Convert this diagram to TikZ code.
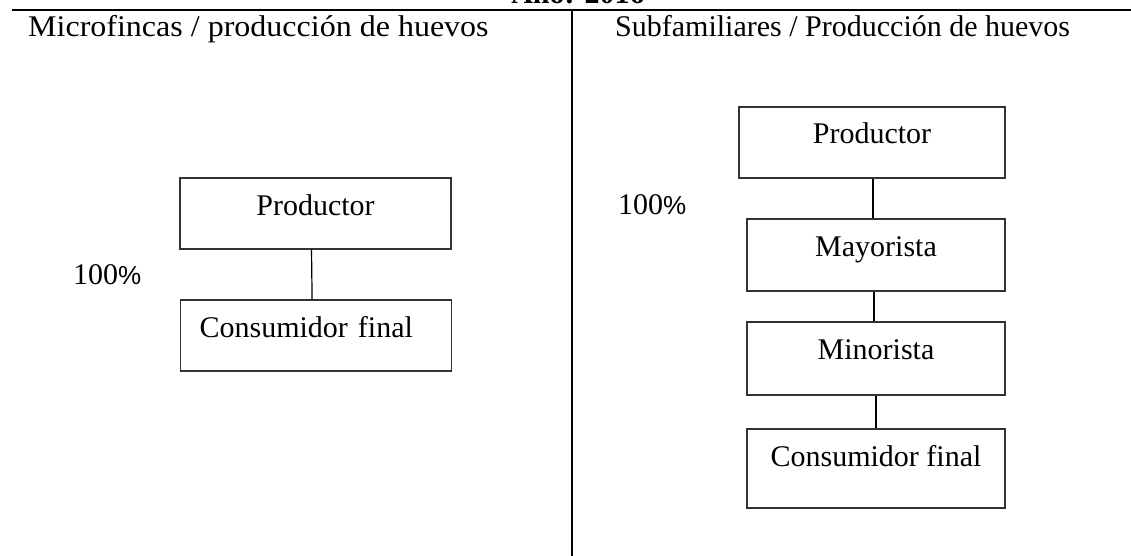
\documentclass[tikz,border=0pt]{standalone}
\usepackage{fontspec}
\setmainfont{Liberation Serif}
\newfontfamily\pctfont{Liberation Sans}
\usetikzlibrary{positioning}

\begin{document}
\begin{tikzpicture}[x=1pt, y=-1pt, every node/.style={font=\fontsize{30}{36}\selectfont, inner sep=0pt},
    caja/.style={draw=black!80, line width=1.2pt, text height=37pt, text depth=#1, minimum width=258pt}]
    \useasboundingbox (0,0) rectangle (1131,556);

    % Titulo y separadores
    \node[anchor=base, font=\fontsize{30}{36}\selectfont\bfseries] (titulo) at (578,4) {Año: 2016};
    \coordinate (sep_L) at (12,10); \coordinate (sep_R) at (1131,10);
    \coordinate (div_T) at (572,10); \coordinate (div_B) at (572,556);
    \draw[line width=2.2pt] (sep_L) -- (sep_R);
    \draw[line width=1.6pt] (div_T) -- (div_B);

    % Microfincas
    \node[anchor=base west] (L_head) at (28,37) {\scalebox{1.067}[1]{Microfincas / producción de huevos}};
    \node[caja=34pt, minimum width=271pt, anchor=base] (L_prod) at (315.5,215) {Productor};
    \node[caja=34pt, text width=233pt, inner xsep=19pt, align=left, anchor=base west] (L_cons) at (180,337) {Consumidor final};
    \node[anchor=base west] (L_pct) at (73,284) {100{\pctfont\fontsize{26}{30}\selectfont\%}};

    % Subfamiliares
    \node[anchor=base west] (R_head) at (615,37) {Subfamiliares / Producción de huevos};
    \node[caja=34pt, minimum width=266pt, anchor=base] (R_prod) at (872,144) {Productor};
    \node[caja=35pt, anchor=base] (R_may) at (876,256) {Mayorista};
    \node[caja=36pt, anchor=base] (R_min) at (876,359) {Minorista};
    \node[caja=42pt, anchor=base] (R_cons) at (876,466) {Consumidor final};
    \node[anchor=base west] (R_pct) at (618,214) {100{\pctfont\fontsize{26}{30}\selectfont\%}};

    % Conectores
    \draw[line width=1.2pt] ([xshift=-4pt]L_prod.south) -- ([xshift=-4pt]L_cons.north);
    \draw[line width=1.2pt] ([xshift=1pt]R_prod.south) -- ([xshift=-3pt]R_may.north);
    \draw[line width=1.2pt] ([xshift=-2pt]R_may.south) -- ([xshift=-2pt]R_min.north);
    \draw[line width=1.2pt] (R_min.south) -- (R_cons.north);

\end{tikzpicture}
\end{document}
